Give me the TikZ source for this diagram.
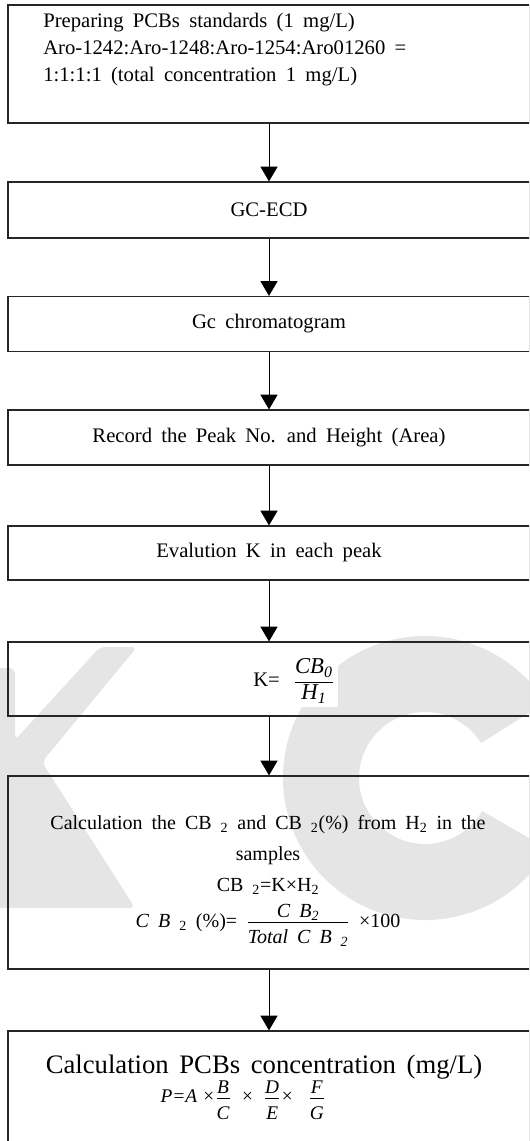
\documentclass[tikz,border=0pt]{standalone}
\usepackage{amsmath}
\usepackage{fontspec}
\setmainfont{Liberation Serif}
\usetikzlibrary{arrows.meta}

\newcommand{\pcbfont}{\fontsize{15.5pt}{20.25pt}\selectfont\spaceskip=.45em plus .1em\relax}
\newcommand{\pcbcalc}{\fontsize{15pt}{23.5pt}\selectfont\spaceskip=.45em plus .1em\relax}
\newcommand{\pcbbig}{\fontsize{20pt}{24pt}\selectfont\spaceskip=.4em plus .1em\relax}
\newcommand{\pcbsmall}{\fontsize{14.5pt}{16pt}\selectfont\itshape}
\newcommand{\pcbkfont}{\fontsize{17pt}{19pt}\selectfont\itshape}
% fraction with text-size parts and a little air round the bar
\newcommand{\pcbfrac}[2]{$\frac{\mbox{\raisebox{1.5pt}{#1}}}{\mbox{\rule{0pt}{1.02em}#2}}$}

\begin{document}
\begin{tikzpicture}[x=0.75pt,y=-0.75pt,
  stepbox/.style={draw=black!85,line width=0.9pt,minimum width=391.5pt,inner sep=0pt,font=\pcbfont},
  steptext/.style={inner sep=0pt,align=center},
  flow/.style={-{Triangle[width=12.75pt,length=11pt]},line width=0.7pt},
  wmark/.style={fill=black!10}]
\useasboundingbox (0,0) rectangle (529,1141);
\clip (0,0) rectangle (529,1141);
% watermark
\fill[wmark,rounded corners=4pt] (-60,668) -- (15,668) -- (15,740) -- (100,647) -- (137,647)
  -- (42,762) -- (135,908) -- (-60,908) -- cycle;
\fill[wmark] (425,778) ++(30:142) arc[start angle=30,end angle=328,radius=142]
  -- ++(328:-76) arc[start angle=328,end angle=30,radius=66] -- cycle;
% steps
\node[stepbox,minimum height=88.5pt] (prep) at (269,64) {};
\node[anchor=west,align=left,inner sep=0pt,font=\pcbfont] (preptext) at (43,50)
  {Preparing PCBs standards (1 mg/L)\\Aro-1242:Aro-1248:Aro-1254:Aro01260 =\\1:1:1:1 (total concentration 1 mg/L)};
\node[stepbox,minimum height=42pt] (gcecd) at (269,210) {GC-ECD};
\node[stepbox,minimum height=41.25pt] (chrom) at (269,324) {Gc chromatogram};
\node[stepbox,minimum height=41.25pt] (peak) at (269,437.5) {Record the Peak No. and Height (Area)};
\node[stepbox,minimum height=40.5pt] (evalk) at (269,553) {Evalution K in each peak};
\node[stepbox,minimum height=55.5pt] (kbox) at (269,679) {};
\node[anchor=west,inner sep=0pt,font=\pcbfont] (keq) at (253,681)
  {K=\hspace{.5em}\setlength{\fboxsep}{2.5pt}\colorbox{white}{$\dfrac{\mbox{\pcbkfont CB\textsubscript{0}}}{\mbox{\pcbkfont H\textsubscript{1}}}$}};
\node[stepbox,minimum height=144.75pt] (calc) at (269,872.5) {};
\node[steptext,font=\pcbcalc] (calctext) at (268,881)
  {Calculation the CB \textsubscript{2} and CB \textsubscript{2}(\%) from H\textsubscript{2} in the\\
   samples\\
   CB \textsubscript{2}=K×H\textsubscript{2}\\[3pt]
   \textit{C B} \textsubscript{2} (\%)= \pcbfrac{\itshape C B\textsubscript{2}}{\itshape Total C B \textsubscript{2}} ×100};
\node[stepbox,minimum height=89.25pt] (conc) at (269,1090.5) {};
\node[steptext,font=\pcbbig] (conctitle) at (264,1067) {Calculation PCBs concentration (mg/L)};
\node[steptext,font=\pcbsmall] (concform) at (243,1100)
  {P=A ×\pcbfrac{B}{C} \ × \ \pcbfrac{D}{E}× \ \ \pcbfrac{F}{G}};
% arrows
\draw[flow] (prep) -- (gcecd);
\draw[flow] (gcecd) -- (chrom);
\draw[flow] (chrom) -- (peak);
\draw[flow] (peak) -- (evalk);
\draw[flow] (evalk) -- (kbox);
\draw[flow] (kbox) -- (calc);
\draw[flow] (calc) -- (conc);
\end{tikzpicture}
\end{document}
